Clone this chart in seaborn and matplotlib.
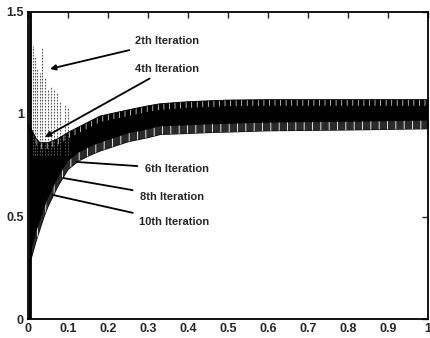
import numpy as np
import pandas as pd
import matplotlib
matplotlib.use("Agg")
import matplotlib.pyplot as plt
import seaborn as sns

# ---- data ----
env_t = [0.002, 0.01, 0.02, 0.03, 0.04, 0.05, 0.0625, 0.075, 0.0875, 0.1, 0.125, 0.15,
         0.18, 0.25, 0.3, 0.33, 0.4, 0.46, 0.5, 0.6, 0.7, 0.8, 0.9, 1.0]
env_upper = [0.95, 0.92, 0.88, 0.86, 0.86, 0.86, 0.87, 0.88, 0.895, 0.91, 0.935, 0.96,
             0.99, 1.02, 1.04, 1.05, 1.06, 1.065, 1.068, 1.07, 1.07, 1.07, 1.07, 1.07]
env_lower = [0.26, 0.31, 0.38, 0.44, 0.50, 0.55, 0.60, 0.65, 0.69, 0.73, 0.77, 0.795,
             0.82, 0.865, 0.885, 0.90, 0.905, 0.91, 0.912, 0.918, 0.92, 0.922, 0.925, 0.928]

spike_t = [0.004, 0.0125, 0.0175, 0.0225, 0.03, 0.035, 0.0425, 0.05, 0.0575, 0.065,
           0.0725, 0.08, 0.0925, 0.1]
spike_top = [1.5, 1.33, 1.28, 1.22, 1.2, 1.32, 1.18, 1.12, 1.13, 1.12, 1.1, 1.06, 1.05, 1.03]

ann_labels = ["2th Iteration", "4th Iteration", "6th Iteration", "8th Iteration", "10th Iteration"]
ann_xy = [(0.055, 1.22), (0.0425, 0.888), (0.1225, 0.766), (0.0875, 0.688), (0.0625, 0.605)]
ann_text = [(0.267, 1.355), (0.267, 1.22), (0.292, 0.733), (0.28, 0.595), (0.277, 0.473)]
ann_arrow = [True, True, False, False, False]

xticks = [0, 0.1, 0.2, 0.3, 0.4, 0.5, 0.6, 0.7, 0.8, 0.9, 1.0]
xtick_labels = ["0", "0.1", "0.2", "0.3", "0.4", "0.5", "0.6", "0.7", "0.8", "0.9", "1"]
yticks = [0, 0.5, 1.0, 1.5]
ytick_labels = ["0", "0.5", "1", "1.5"]

# ---- plot ----
sns.set_style("white")
plt.rcParams["font.family"] = ["Liberation Sans", "DejaVu Sans"]
plt.rcParams["hatch.linewidth"] = 0.6

fig = plt.figure(figsize=(4.3, 3.38), dpi=100)
ax = fig.add_axes([28 / 430, 19 / 338, 400 / 430, 307.5 / 338])

df = pd.DataFrame({"t": env_t, "upper": env_upper, "lower": env_lower})
df["fringe_lo"] = df["lower"] + 0.04
df["fringe_hi"] = df["upper"] - 0.03

# spikes (early iterations)
ax.vlines(spike_t[:1], 0.0, spike_top[:1], color="black", lw=2.0)
ax.vlines(spike_t[1:], [0.8] * (len(spike_t) - 1), spike_top[1:], color="#555555",
          lw=0.8, linestyles=(0, (1.5, 1.2)))

# band of oscillations
ax.fill_between(df["t"], df["lower"], df["upper"], color="black", lw=0)
ax.fill_between(df["t"], df["lower"], df["fringe_lo"], facecolor="#2a2a2a",
                edgecolor="white", hatch="| |", lw=0)
ax.fill_between(df["t"], df["fringe_hi"], df["upper"], facecolor="black",
                edgecolor="#cccccc", hatch="|  |  |", lw=0)
sns.lineplot(data=df, x="t", y="upper", ax=ax, color="black", lw=0.6)
ax.vlines([0.004], 0.0, 0.3, color="black", lw=1.2)

for lab, xy, xt, arr in zip(ann_labels, ann_xy, ann_text, ann_arrow):
    if arr:
        props = dict(arrowstyle="-|>", color="black", lw=1.3, mutation_scale=8,
                     shrinkA=2, shrinkB=0)
    else:
        props = dict(arrowstyle="-", color="black", lw=1.3, shrinkA=3, shrinkB=0)
    ax.annotate(lab, xy=xy, xytext=xt, textcoords="data", fontsize=8,
                fontweight="bold", va="center", ha="left", arrowprops=props)

ax.set_xlim(0, 1.0)
ax.set_ylim(0, 1.5)
ax.set_xticks(xticks)
ax.set_xticklabels(xtick_labels, fontsize=9, fontweight="bold")
ax.set_yticks(yticks)
ax.set_yticklabels(ytick_labels, fontsize=9, fontweight="bold")
ax.set_xlabel("")
ax.set_ylabel("")
ax.tick_params(direction="in", top=True, right=True, length=4, width=1, pad=3)
for s in ax.spines.values():
    s.set_color("black")
    s.set_linewidth(1.3)

fig.savefig("out.png", dpi=100)
